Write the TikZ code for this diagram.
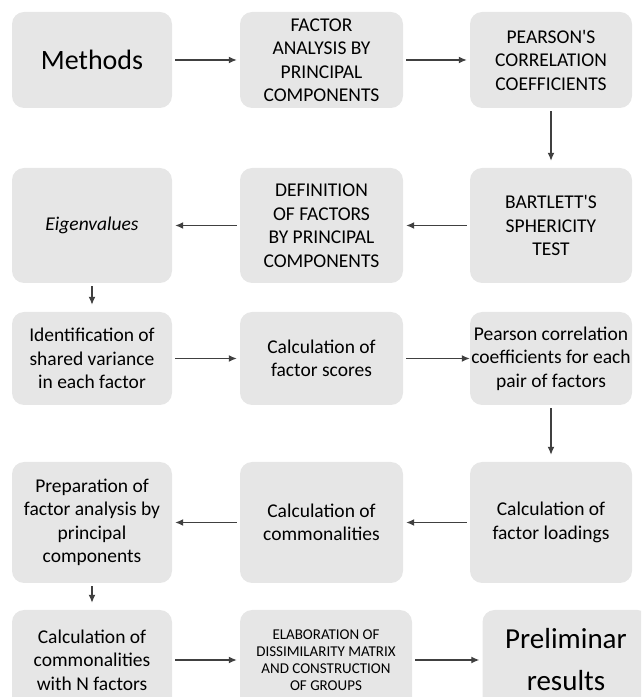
\documentclass[tikz,border=0pt]{standalone}
\usepackage{fontspec}
\setmainfont{Carlito}
\usetikzlibrary{arrows.meta}
\definecolor{boxgray}{HTML}{E6E6E6}
\definecolor{arrowgray}{HTML}{404040}

\begin{document}
\begin{tikzpicture}[x=1pt,y=1pt,
  box/.style={fill=boxgray,rounded corners=12pt,align=center,inner sep=1pt,
    font=\fontsize{19.5}{23.5}\selectfont},
  flow/.style={->,draw=arrowgray,line width=1.3pt,shorten <=3pt,shorten >=3pt},
  >={Latex[length=8pt,width=7pt]}]
\clip (0,0) rectangle (641,697);
% row 1
\node[box,minimum width=160,minimum height=96] (methods) at (92,637) {\fontsize{28}{34}\selectfont Methods};
\node[box,minimum width=163,minimum height=96] (fapc) at (321.5,637) {FACTOR\\ANALYSIS BY\\PRINCIPAL\\COMPONENTS};
\node[box,minimum width=162,minimum height=96] (pcc) at (551,637) {PEARSON\textquotesingle S\\CORRELATION\\COEFFICIENTS};
% row 2
\node[box,minimum width=162,minimum height=115] (bst) at (551,471.5) {BARTLETT\textquotesingle S\\SPHERICITY\\TEST};
\node[box,minimum width=163,minimum height=115] (dfpc) at (321.5,471.5) {DEFINITION\\OF FACTORS\\BY PRINCIPAL\\COMPONENTS};
\node[box,minimum width=160,minimum height=115] (eigen) at (92,471.5) {\itshape Eigenvalues};
% row 3
\node[box,minimum width=160,minimum height=93] (isv) at (92,338.5) {Identification of\\shared variance\\in each factor};
\node[box,minimum width=163,minimum height=93] (cfs) at (321.5,338.5) {Calculation of\\factor scores};
\node[box,minimum width=162,minimum height=93] (pccf) at (551,338.5) {Pearson correlation\\coefficients for each\\pair of factors};
% row 4
\node[box,minimum width=162,minimum height=121] (cfl) at (551,174.5) {Calculation of\\factor loadings};
\node[box,minimum width=163,minimum height=121] (ccom) at (321.5,174.5) {Calculation of\\commonalities};
\node[box,minimum width=160,minimum height=121] (pfa) at (92,174.5) {Preparation of\\factor analysis by\\principal\\components};
% row 5
\node[box,minimum width=160,minimum height=100] (ccn) at (92,37) {Calculation of\\commonalities\\with N factors};
\node[box,minimum width=172,minimum height=100,font=\fontsize{15}{17}\selectfont] (edm) at (326,37) {ELABORATION OF\\DISSIMILARITY MATRIX\\AND CONSTRUCTION\\OF GROUPS};
\node[box,minimum width=167,minimum height=100,font=\fontsize{29}{42}\selectfont] (pres) at (566,37) {Preliminar\\results};
% connectors
\draw[flow] (methods)--(fapc);
\draw[flow] (fapc)--(pcc);
\draw[flow,shorten >=7pt] (pcc)--(bst);
\draw[flow] (bst)--(dfpc);
\draw[flow] (dfpc)--(eigen);
\draw[flow,shorten >=7pt] (eigen)--(isv);
\draw[flow] (isv)--(cfs);
\draw[flow,shorten >=0pt] (cfs)--(pccf);
\draw[flow,shorten >=7pt] (pccf)--(cfl);
\draw[flow] (cfl)--(ccom);
\draw[flow] (ccom)--(pfa);
\draw[flow,shorten >=7pt] (pfa)--(ccn);
\draw[flow] (ccn)--(edm);
\draw[flow] (edm)--(pres);
\end{tikzpicture}
\end{document}
